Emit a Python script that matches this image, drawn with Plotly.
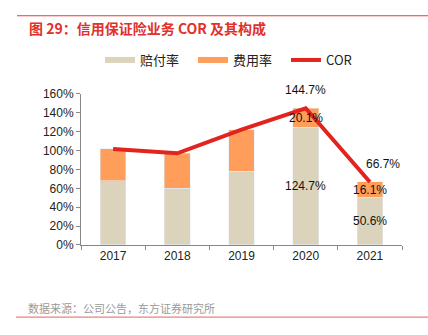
import plotly.graph_objects as go

years = ["2017", "2018", "2019", "2020", "2021"]
claims = [67.8, 60.2, 78.3, 124.7, 50.6]
expense = [33.8, 36.8, 43.7, 20.1, 16.1]
cor = [101.6, 97.0, 122.0, 144.7, 66.7]
label_years = ["2020", "2021"]
label_claims = [124.7, 50.6]
label_expense = [20.1, 16.1]
label_cor = [144.7, 66.7]

C_BEIGE = "#DCD3BD"
C_ORANGE = "#FE9E5A"
C_RED = "#E3231D"
FONT = "Liberation Sans, Arial, Noto Sans CJK SC"
CJK = "Noto Sans CJK SC, Liberation Sans"

W, H = 428, 335
pl, pr, pt, pb = 81, 26, 92, 90
pw, ph = W - pl - pr, H - pt - pb
def px(x):
    return (x - pl) / pw
def py(y):
    return (H - pb - y) / ph

fig = go.Figure()
fig.add_trace(go.Bar(x=years, y=claims, marker_color=C_BEIGE, width=0.4,
                     showlegend=False, hoverinfo="skip"))
fig.add_trace(go.Bar(x=years, y=expense, marker_color=C_ORANGE, width=0.4,
                     showlegend=False, hoverinfo="skip"))
fig.add_trace(go.Scatter(x=years, y=cor, mode="lines",
                         line=dict(color=C_RED, width=4), showlegend=False))
# legend entries
fig.add_trace(go.Scatter(x=[years[0]], y=[None], mode="lines", name="赔付率",
                         line=dict(color=C_BEIGE, width=6)))
fig.add_trace(go.Scatter(x=[years[0]], y=[None], mode="lines", name="费用率",
                         line=dict(color=C_ORANGE, width=6)))
fig.add_trace(go.Scatter(x=[years[0]], y=[None], mode="lines", name="COR",
                         line=dict(color=C_RED, width=4)))

ann = []
lab_font = dict(size=12, color="#111", family=FONT)
for yr, c, e in zip(label_years, label_claims, label_expense):
    xi = years.index(yr)
    ann.append(dict(x=xi, y=c / 2, text=f"{c:.1f}%", showarrow=False, font=lab_font))
    ann.append(dict(x=xi, y=c + e / 2, text=f"{e:.1f}%", showarrow=False, font=lab_font))
ann.append(dict(x=years.index(label_years[0]), y=label_cor[0],
                text=f"{label_cor[0]:.1f}%", showarrow=False, yshift=18, font=lab_font))
ann.append(dict(x=years.index(label_years[1]), y=label_cor[1],
                text=f"{label_cor[1]:.1f}%", showarrow=False, yshift=18, xshift=13,
                font=lab_font))
ann.append(dict(xref="paper", yref="paper", x=px(27), y=py(25), xanchor="left",
                yanchor="middle", showarrow=False,
                text="<b>图 29：信用保证险业务 COR 及其构成</b>",
                font=dict(size=14, color="#E2302A", family=CJK)))
ann.append(dict(xref="paper", yref="paper", x=px(26), y=py(309), xanchor="left",
                yanchor="middle", showarrow=False,
                text="数据来源：公司公告，东方证券研究所",
                font=dict(size=11, color="#9A9A9A", family=CJK)))

fig.update_layout(
    width=W, height=H,
    margin=dict(l=pl, r=pr, t=pt, b=pb),
    barmode="stack",
    plot_bgcolor="white", paper_bgcolor="white",
    font=dict(family=FONT, size=12, color="#222"),
    annotations=ann,
    legend=dict(orientation="h", x=px(100), xanchor="left",
                y=1 - 45 / H, yanchor="top", yref="container",
                font=dict(size=13, family=CJK, color="#222"),
                entrywidth=48, entrywidthmode="pixels",
                traceorder="normal"),
    shapes=[
        dict(type="line", xref="paper", yref="paper", x0=px(17), x1=px(428),
             y0=py(13), y1=py(13), line=dict(color="#E53A35", width=1.2)),
        dict(type="line", xref="paper", yref="paper", x0=px(16), x1=px(428),
             y0=py(318), y1=py(318), line=dict(color="#E8827C", width=1.2)),
    ],
)
fig.update_xaxes(type="category", categoryorder="array", categoryarray=years,
                 range=[-0.5, len(years) - 0.5],
                 showline=True, linecolor="#888", linewidth=1,
                 ticks="outside", tickson="boundaries", ticklen=4,
                 tickcolor="#888", tickfont=dict(size=12, color="#222"),
                 showgrid=False, fixedrange=True)
fig.update_yaxes(range=[0, 160], tickvals=list(range(0, 161, 20)),
                 ticktext=[f"{v}%" for v in range(0, 161, 20)],
                 showline=True, linecolor="#888", linewidth=1,
                 ticks="outside", ticklen=4, tickcolor="#888",
                 tickfont=dict(size=12, color="#222"),
                 showgrid=False, zeroline=False, fixedrange=True)

fig.write_html("out.html")
